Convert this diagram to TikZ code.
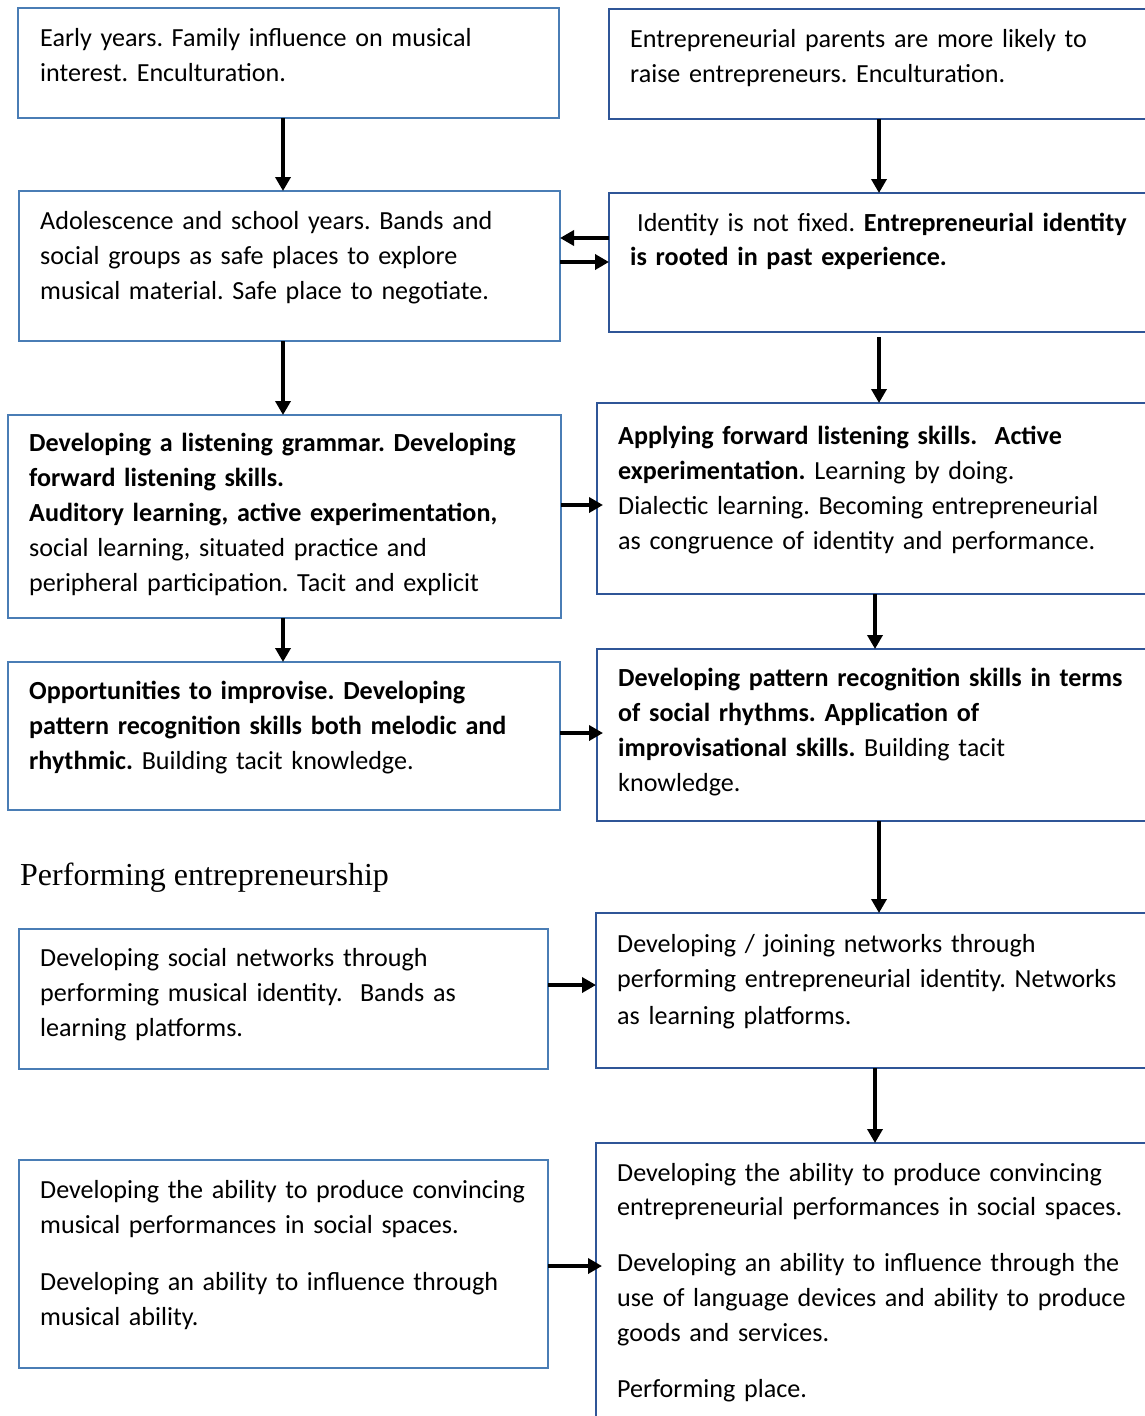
\documentclass[tikz,border=0pt]{standalone}
\usepackage{fontspec}
\setmainfont{Carlito}
\newfontfamily\timesf{Liberation Serif}
\usetikzlibrary{arrows.meta,calc}
\definecolor{lblue}{HTML}{4A7DB5}
\definecolor{rblue}{HTML}{2F5597}
\frenchspacing
\tikzset{
  box/.style={draw, line width=2.5pt, rectangle, inner sep=0pt, outer sep=0pt, anchor=north west},
  lbox/.style={box, draw=lblue},
  rbox/.style={box, draw=rblue},
  txt/.style={anchor=base west, inner sep=0pt, text width=620pt, align=left,
    font=\frenchspacing\fontsize{26.1}{35}\selectfont},
  arr/.style={line width=3.5pt, -{Triangle[length=14pt,width=15pt]}},
}
\begin{document}
\begin{tikzpicture}[x=1pt,y=-1pt]
\clip (0,0) rectangle (1145,1416);
\fill[white] (0,0) rectangle (1145,1416);

% boxes
\node[lbox, minimum width=541pt, minimum height=110pt] (L1) at (18,8) {};
\node[rbox, minimum width=600pt, minimum height=110pt] (R1) at (609,9) {};
\node[lbox, minimum width=541pt, minimum height=150pt] (L2) at (19,191) {};
\node[rbox, minimum width=600pt, minimum height=139pt] (R2) at (609,193) {};
\node[lbox, minimum width=553pt, minimum height=203pt] (L3) at (8,415) {};
\node[rbox, minimum width=600pt, minimum height=191pt] (R3) at (597,403) {};
\node[lbox, minimum width=552pt, minimum height=148pt] (L4) at (8,662) {};
\node[rbox, minimum width=600pt, minimum height=172pt] (R4) at (597,649) {};
\node[lbox, minimum width=529pt, minimum height=140pt] (L5) at (19,929) {};
\node[rbox, minimum width=600pt, minimum height=155pt] (R5) at (596,913) {};
\node[lbox, minimum width=529pt, minimum height=208pt] (L6) at (19,1160) {};
\node[rbox, minimum width=600pt, minimum height=320pt] (R6) at (596,1143) {};

% texts
\node[txt] (tL1) at (40,46) {Early years. Family influence on musical\\interest. Enculturation.};
\node[txt] (tR1) at (630,47) {Entrepreneurial parents are more likely to\\raise entrepreneurs. Enculturation.};
\node[txt] (tL2) at (40,229) {Adolescence and school years. Bands and\\social groups as safe places to explore\\musical material. Safe place to negotiate.};
\node[txt] (tR2) at (630,231) {\hspace*{7pt}Identity is not fixed. \textbf{Entrepreneurial identity}\\[-1pt]\textbf{is rooted in past experience.}};
\node[txt] (tL3) at (29,451) {\textbf{Developing a listening grammar. Developing}\\\textbf{forward listening skills.}\\\textbf{Auditory learning, active experimentation,}\\social learning, situated practice and\\peripheral participation. Tacit and explicit};
\node[txt] (tR3) at (618,444) {\textbf{Applying forward listening skills.\ \ Active}\\\textbf{experimentation.} Learning by doing.\\Dialectic learning. Becoming entrepreneurial\\as congruence of identity and performance.};
\node[txt] (tL4) at (29,699) {\textbf{Opportunities to improvise. Developing}\\\textbf{pattern recognition skills both melodic and}\\\textbf{rhythmic.} Building tacit knowledge.};
\node[txt] (tR4) at (618,686) {\textbf{Developing pattern recognition skills in terms}\\\textbf{of social rhythms. Application of}\\\textbf{improvisational skills.} Building tacit\\knowledge.};
\node[anchor=base west, inner sep=0pt, font=\timesf\fontsize{32}{38}\selectfont] (title) at (20,885) {Performing entrepreneurship};
\node[txt] (tL5) at (40,966) {Developing social networks through\\performing musical identity.\ \ Bands as\\learning platforms.};
\node[txt] (tR5) at (617,952) {Developing / joining networks through\\performing entrepreneurial identity. Networks\\[2pt]as learning platforms.};
\node[txt] (tL6) at (40,1198) {Developing the ability to produce convincing\\musical performances in social spaces.\\[22pt]Developing an ability to influence through\\musical ability.};
\node[txt] (tR6) at (617,1181) {Developing the ability to produce convincing\\[-1pt]entrepreneurial performances in social spaces.\\[21pt]Developing an ability to influence through the\\use of language devices and ability to produce\\goods and services.\\[21pt]Performing place.};

% connectors
\draw[arr] (L1.south -| 283,0) -- (L2.north -| 283,0);
\draw[arr] (R1.south -| 879,0) -- (R2.north -| 879,0);
\draw[arr] (R2.west |- 0,238) -- (L2.east |- 0,238);
\draw[arr] (L2.east |- 0,262) -- (R2.west |- 0,262);
\draw[arr] (L2.south -| 283,0) -- (L3.north -| 283,0);
\draw[arr, shorten <=5pt] (R2.south -| 879,0) -- (R3.north -| 879,0);
\draw[arr, shorten >=-6pt] (L3.east |- 0,505) -- (R3.west |- 0,505);
\draw[arr] (R3.south -| 875,0) -- (R4.north -| 875,0);
\draw[arr] (L3.south -| 283,0) -- (L4.north -| 283,0);
\draw[arr, shorten >=-6pt] (L4.east |- 0,733) -- (R4.west |- 0,733);
\draw[arr] (R4.south -| 879,0) -- (R5.north -| 879,0);
\draw[arr] (L5.east |- 0,985) -- (R5.west |- 0,985);
\draw[arr] (R5.south -| 875,0) -- (R6.north -| 875,0);
\draw[arr, shorten >=-6pt] (L6.east |- 0,1266) -- (R6.west |- 0,1266);
\end{tikzpicture}
\end{document}
